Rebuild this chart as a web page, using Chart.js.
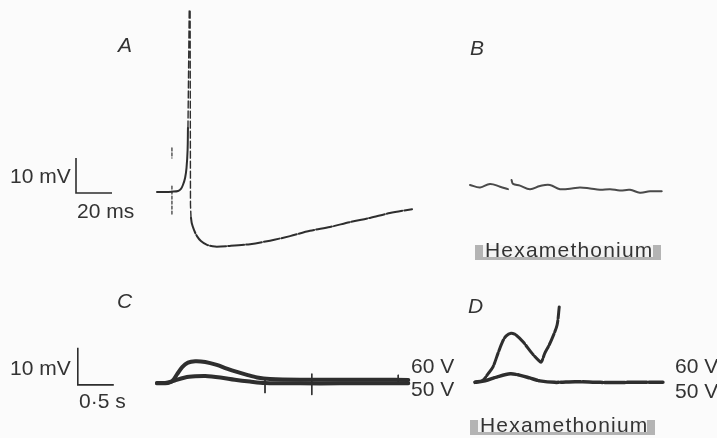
<!DOCTYPE html>
<html>
<head>
<meta charset="utf-8">
<script src="https://cdn.jsdelivr.net/npm/chart.js@4.4.1/dist/chart.umd.min.js"></script>
<style>
  html, body { margin: 0; padding: 0; background: #fbfbfb; }
  #fig { position: relative; width: 717px; height: 438px; overflow: hidden;
         font-family: "Liberation Sans", Arial, sans-serif; color: #333; }
  #fig canvas { position: absolute; }
  .t { position: absolute; white-space: nowrap; line-height: 1; font-size: 21px; }
  .lbl { font-style: italic; font-size: 21px; }
  .hex { position: absolute; height: 15px; background-color: #b4b4b4;
         background-image: radial-gradient(#8a8a8a 0.6px, transparent 0.7px);
         background-size: 2px 2px; }
  .hex span { position: absolute; left: 8px; right: 8px; top: 0; bottom: 3px; background: #f4f4f4; }
  .hex b { position: absolute; top: -6px; font-weight: normal; font-size: 21px;
           letter-spacing: 1.2px; line-height: 1; }
</style>
</head>
<body>
<div id="fig">
  <canvas id="pa" width="450" height="260" style="left:0;top:0"></canvas>
  <canvas id="pb" width="267" height="260" style="left:450px;top:0"></canvas>
  <canvas id="pc" width="460" height="178" style="left:0;top:260px"></canvas>
  <canvas id="pd" width="257" height="178" style="left:460px;top:260px"></canvas>

  <div class="t lbl" style="left:118px;top:34px">A</div>
  <div class="t lbl" style="left:470px;top:37px">B</div>
  <div class="t lbl" style="left:117px;top:290px">C</div>
  <div class="t lbl" style="left:468px;top:295px">D</div>

  <div class="t" style="left:10px;top:165px">10 mV</div>
  <div class="t" style="left:77px;top:200px">20 ms</div>
  <div class="t" style="left:10px;top:357px">10 mV</div>
  <div class="t" style="left:79px;top:390px">0·5 s</div>

  <div class="t" style="left:411px;top:355px">60 V</div>
  <div class="t" style="left:411px;top:378px">50 V</div>
  <div class="t" style="left:675px;top:355px">60 V</div>
  <div class="t" style="left:675px;top:380px">50 V</div>

  <div class="hex" style="left:475px;top:245px;width:186px"><span></span><b style="left:10px">Hexamethonium</b></div>
  <div class="hex" style="left:470px;top:420px;width:185px"><span></span><b style="left:10px">Hexamethonium</b></div>
</div>
<script>
// A: action potential, ms / mV
const A_RISE = [[0,0],[4.4,0],[8.3,0.1],[11.7,0.3],[13.3,0.9],[14.4,2],[15.6,4],[16.4,6.9],[17,12],[17.2,18.3]];
const A_SPIKE = [[17.2,18.3],[17.9,52],[18.4,52],[18.6,-3.7],[18.9,-7.4]];
const A_AHP = [[18.9,-7.4],[19.4,-9.1],[20.6,-10.9],[22.2,-12.6],[24.4,-14],[27.8,-15.1],[32.2,-15.6],
  [40.6,-15.4],[51.7,-14.9],[62.8,-13.9],[73.9,-12.6],[85,-11.1],[96.1,-10],[107.2,-8.6],
  [118.3,-7.4],[129.4,-6],[141.7,-4.9]];
const A_STIM = [[8.3,12.6],[8.3,9.7],null,[8.3,1.7],[8.3,-6.6]];
const SCALE_A = { dx: 20, dy: 10, x0: -45, y0: -0.3 };

// B: same stimulus under hexamethonium, ms / mV
const B_TRACE = [[0,0.3],[5.6,-0.4],[11.1,0.6],[16.7,-0.2],[21.1,-0.9],null,[23.1,1.7],[23.9,0.6],
  [27.8,0.1],[33.3,-0.9],[38.9,0],[44.4,0.3],[50,-0.9],[56.5,-0.7],[61.1,-0.4],[66.7,-0.7],
  [72.2,-1.1],[77.8,-0.9],[83.3,-1.3],[88.9,-1.1],[94.4,-1.9],[100,-1.5],[106.5,-1.5]];

// C: slow EPSPs, s / mV
const C_60V = [[0,0],[0.11,0],[0.21,0.5],[0.28,2.4],[0.35,4.3],[0.43,5.5],[0.53,5.9],[0.67,5.7],
  [0.83,4.9],[0.97,3.9],[1.11,3],[1.25,2.2],[1.39,1.5],[1.57,1.1],[1.99,0.9],[2.54,0.9],[3.1,0.9],[3.49,0.8]];
const C_50V = [[0,-0.1],[0.15,0],[0.26,0.8],[0.39,1.5],[0.53,1.8],[0.67,1.9],[0.88,1.5],[1.08,0.9],
  [1.29,0.4],[1.5,0],[1.99,-0.1],[2.54,-0.1],[3.1,-0.1],[3.49,-0.1]];
const C_TICKS = [[1.5,0.8],[1.5,-2.7],null,[2.15,2.5],[2.15,-3.2],null,[3.35,2.2],[3.35,0]];
const SCALE_C = { dx: 0.5, dy: 10, x0: -1.1, y0: -0.5 };

// D: hexamethonium, s / mV
const D_60V = [[0,0],[0.11,0.5],[0.18,2.2],[0.25,4.1],[0.32,7.8],[0.38,10.8],[0.43,12.4],[0.5,13.2],
  [0.57,12.7],[0.67,10.8],[0.79,7.8],[0.88,5.9],[0.92,5.4],[0.97,7.8],[1.03,10],[1.08,12.2],[1.14,15.4],[1.17,20.3]];
const D_50V = [[0,-0.1],[0.14,0.3],[0.31,1.4],[0.49,2.2],[0.63,1.8],[0.76,1.1],[0.9,0.3],[1.11,-0.1],
  [1.39,0.1],[1.74,-0.1],[2.15,-0.1],[2.61,-0.1]];

const INK = '#2e2e2e';
const pts = arr => arr.map(p => p ? { x: p[0], y: p[1] } : { x: NaN, y: null });
const bar = s => [{ x: s.x0, y: s.y0 + s.dy }, { x: s.x0, y: s.y0 }, { x: s.x0 + s.dx, y: s.y0 }];

function line(data, width, extra) {
  return Object.assign({ data, borderColor: INK, borderWidth: width, pointRadius: 0,
    tension: 0.3, fill: false, spanGaps: false, borderCapStyle: 'round' }, extra || {});
}

// frame: canvas box in page px, trace origin in page px, px per unit
function mkPanel(id, f, datasets) {
  return new Chart(document.getElementById(id), {
    type: 'line',
    data: { datasets },
    options: {
      animation: false, responsive: false, events: [],
      layout: { padding: 0 },
      scales: {
        x: { type: 'linear', display: false,
             min: (f.left - f.ox) / f.sx, max: (f.left + f.w - f.ox) / f.sx },
        y: { type: 'linear', display: false,
             min: (f.oy - f.top - f.h) / f.sy, max: (f.oy - f.top) / f.sy },
      },
      plugins: { legend: { display: false }, tooltip: { enabled: false } },
    },
  });
}

mkPanel('pa', { left: 0, top: 0, w: 450, h: 260, ox: 157, oy: 192, sx: 1.8, sy: 3.5 }, [
  line(pts(A_RISE), 2),
  line(pts(A_SPIKE), 1.4, { tension: 0, borderDash: [7, 3] }),
  line(pts(A_AHP), 2, { borderDash: [16, 2] }),
  line(pts(A_STIM), 1.2, { tension: 0, borderDash: [3, 2] }),
  line(bar(SCALE_A), 1.6, { tension: 0, borderCapStyle: 'butt' }),
]);

mkPanel('pb', { left: 450, top: 0, w: 267, h: 260, ox: 470, oy: 186, sx: 1.8, sy: 3.5 }, [
  line(pts(B_TRACE), 2, { borderColor: '#4a4a4a', tension: 0.4 }),
]);

mkPanel('pc', { left: 0, top: 260, w: 460, h: 178, ox: 157, oy: 383, sx: 72, sy: 3.7 }, [
  line(pts(C_60V), 4),
  line(pts(C_50V), 4),
  line(pts(C_TICKS), 1, { tension: 0 }),
  line(bar(SCALE_C), 1.6, { tension: 0, borderCapStyle: 'butt' }),
]);

mkPanel('pd', { left: 460, top: 260, w: 257, h: 178, ox: 475, oy: 382, sx: 72, sy: 3.7 }, [
  line(pts(D_60V), 3, { borderDash: [12, 2] }),
  line(pts(D_50V), 3.5, { borderDash: [20, 2] }),
]);
</script>
</body>
</html>
